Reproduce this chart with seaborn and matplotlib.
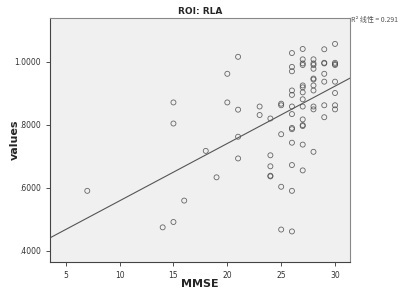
import matplotlib
matplotlib.use("Agg")
import matplotlib.pyplot as plt
import seaborn as sns
import numpy as np
import pandas as pd
from matplotlib.ticker import FuncFormatter

# ---- data ----
mmse = ([7] + [14] + [15]*3 + [16] + [18] + [19] + [20]*2 + [21]*4 + [23]*2 + [24]*5 + [25]*5
        + [26]*13 + [27]*14 + [28]*11 + [29]*7 + [30]*8)
values = ([0.590]
          + [0.474]
          + [0.871, 0.804, 0.491]
          + [0.559]
          + [0.717]
          + [0.633]
          + [0.962, 0.871]
          + [1.016, 0.848, 0.762, 0.693]
          + [0.858, 0.831]
          + [0.820, 0.703, 0.668, 0.638, 0.636]
          + [0.867, 0.862, 0.770, 0.603, 0.467]
          + [1.028, 0.984, 0.970, 0.909, 0.895, 0.858, 0.834, 0.790, 0.786, 0.743, 0.672, 0.590, 0.461]
          + [1.041, 1.008, 0.995, 0.990, 0.925, 0.919, 0.903, 0.881, 0.858, 0.817, 0.799, 0.796, 0.737, 0.655]
          + [1.008, 0.995, 0.990, 0.978, 0.947, 0.944, 0.925, 0.909, 0.858, 0.849, 0.714]
          + [1.040, 0.997, 0.995, 0.962, 0.937, 0.862, 0.824]
          + [1.057, 0.997, 0.993, 0.990, 0.937, 0.901, 0.862, 0.849])
x_ticks = [5, 10, 15, 20, 25, 30]
y_ticks = [0.4, 0.6, 0.8, 1.0]
title = "ROI: RLA"
r2_label = "R² 线性 = 0.291"

df = pd.DataFrame({"MMSE": mmse, "values": values})

sns.set_style("white")
plt.rcParams['font.family'] = ['DejaVu Sans']

fig = plt.figure(figsize=(4.0, 2.97), dpi=100)
ax = fig.add_axes([0.125, 0.118, 0.75, 0.821])
ax.set_facecolor("#F0F0F0")
ax.set_xlim(3.54, 31.39)
ax.set_ylim(0.364, 1.139)

sns.regplot(data=df, x="MMSE", y="values", ax=ax, ci=None, truncate=False,
            scatter_kws=dict(s=13, facecolors="none", edgecolors="#444444", linewidths=0.6),
            line_kws=dict(color="#555555", linewidth=0.8),
            marker="o")
ax.set_xlim(3.54, 31.39)
ax.set_ylim(0.364, 1.139)

ax.set_xticks(x_ticks)
ax.set_yticks(y_ticks)
ax.xaxis.set_major_formatter(FuncFormatter(lambda v, p: f"{int(v)}"))
ax.yaxis.set_major_formatter(FuncFormatter(lambda v, p: f"{v:.4f}".lstrip("0") if v < 1 else f"{v:.4f}"))
ax.tick_params(axis="both", labelsize=5.5, colors="#333333", length=3, width=0.6, direction="out",
               left=True, bottom=True)
for s in ax.spines.values():
    s.set_color("#444444")
    s.set_linewidth(0.8)
ax.spines["top"].set_color("#888888")
ax.spines["right"].set_color("#888888")

ax.set_xlabel("MMSE", fontsize=8, fontweight="bold")
ax.set_ylabel("values", fontsize=8, fontweight="bold")
ax.xaxis.set_label_coords(0.5, -0.07)
ax.yaxis.set_label_coords(-0.10, 0.5)
ax.set_title(title, fontsize=6.5, fontweight="bold", pad=3)

fig.text(0.878, 0.933, r2_label, fontsize=5, color="#555555",
         family=['Noto Sans CJK SC', 'DejaVu Sans'], va="center", ha="left")

fig.savefig("out.png", dpi=100, facecolor="white")
